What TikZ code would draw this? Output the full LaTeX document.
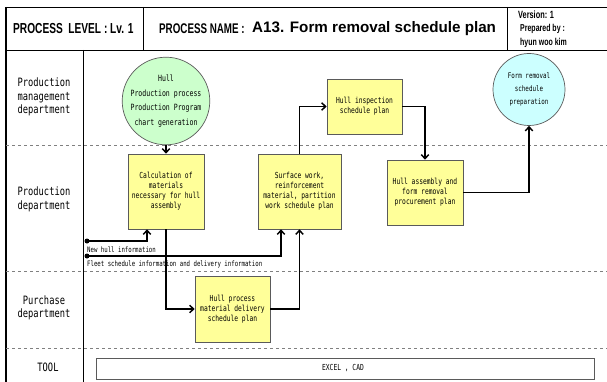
\documentclass[tikz,border=0pt]{standalone}
\usepackage{fontspec}
\usetikzlibrary{arrows.meta}
\setmainfont{Liberation Sans}
\newfontfamily\hdr[FakeStretch=0.7]{Liberation Sans Bold}
\newfontfamily\ttl{Liberation Sans Bold}
\newfontfamily\gul[FakeStretch=0.76]{DejaVu Sans Mono}
\definecolor{boxyellow}{HTML}{FFFF99}
\definecolor{hullgreen}{HTML}{CCFFCC}
\definecolor{formcyan}{HTML}{CCFFFF}
\definecolor{edgegray}{HTML}{5A5A5A}
\tikzset{
  task/.style={draw=edgegray, line width=0.7pt, fill=boxyellow, align=center, inner sep=0pt,
    font=\gul\fontsize{8.3}{10}\selectfont},
  event/.style={circle, draw=edgegray, line width=0.7pt, align=center, inner sep=0pt},
  flow/.style={line width=1.8pt, -{Straight Barb[length=4pt,width=7.5pt,line width=1.5pt]}},
  lane/.style={draw=gray, dashed, line width=0.6pt},
  rule/.style={draw=black, line width=0.7pt},
  lanelabel/.style={align=center, inner sep=0pt, font=\gul\fontsize{11.5}{13.5}\selectfont},
  info/.style={anchor=west, inner sep=0pt, font=\gul\fontsize{7.5}{8}\selectfont},
  hdrtext/.style={anchor=west, inner sep=0pt},
  dot/.style={circle, fill=black, inner sep=0pt, minimum size=5pt}
}
\begin{document}
\begin{tikzpicture}[x=1pt, y=-1pt]
\useasboundingbox (0,0) rectangle (607,382);
\fill[white] (0,0) rectangle (607,382);

% frame, header and lane grid
\draw[line width=2pt] (6,7) -- (6,384);
\draw[rule] (6,7) -- (608,7);
\draw[rule] (6,50) -- (608,50);
\draw[rule] (143,7) -- (143,50);
\draw[rule] (507,7) -- (507,50);
\draw[rule] (83,50) -- (83,384);
\draw[lane] (6,145) -- (607,145);
\draw[lane] (6,271) -- (607,271);
\draw[lane] (6,348) -- (607,348);

% header texts
\node[hdrtext, font=\hdr\fontsize{14.5}{16}\selectfont] (lvl) at (13,29) {PROCESS\ \ LEVEL : Lv. 1};
\node[hdrtext, font=\hdr\fontsize{14}{16}\selectfont] (pname) at (159,29) {PROCESS NAME :};
\node[hdrtext, font=\ttl\fontsize{15.2}{16}\selectfont] (ptitle) at (252,29) {A13. Form removal schedule plan};
\node[hdrtext, font=\hdr\fontsize{10.5}{11}\selectfont] (ver) at (518,15) {Version: 1};
\node[hdrtext, font=\hdr\fontsize{10}{11}\selectfont] (prep) at (520,29) {Prepared by :};
\node[hdrtext, font=\hdr\fontsize{10}{11}\selectfont] (auth) at (520,42.5) {hyun woo kim};

% lane labels
\node[lanelabel] (l1) at (44,97) {Production\\management\\department};
\node[lanelabel] (l2) at (44,199.5) {Production\\department};
\node[lanelabel] (l3) at (44,308) {Purchase\\department};
\node[lanelabel] (l4) at (48,367) {TOOL};

% events
\node[event, fill=hullgreen, minimum size=82pt, font=\gul\fontsize{8.6}{14.5}\selectfont] (hull) at (166,101)
  {Hull\\Production process\\Production Program\\chart generation};
\node[event, fill=formcyan, minimum size=72pt, font=\gul\fontsize{7.7}{13}\selectfont] (form) at (529,89.5)
  {Form removal\\schedule\\preparation};

% tasks
\node[task, minimum width=76pt, minimum height=75pt] (calc) at (166,191.5)
  {Calculation of\\materials\\necessary for hull\\assembly};
\node[task, minimum width=83pt, minimum height=75pt] (surf) at (299.5,191.5)
  {Surface work,\\reinforcement\\material, partition\\work schedule plan};
\node[task, minimum width=75pt, minimum height=55pt] (insp) at (364.5,106.5)
  {Hull inspection\\schedule plan};
\node[task, minimum width=76pt, minimum height=65pt] (asm) at (425,192.5)
  {Hull assembly and\\form removal\\procurement plan};
\node[task, minimum width=75pt, minimum height=66pt] (hproc) at (232.5,309)
  {Hull process\\material delivery\\schedule plan};

% tool box
\node[draw=edgegray, line width=0.7pt, minimum width=498pt, minimum height=21pt, inner sep=0pt] (tool) at (345,368.5) {};
\node[inner sep=0pt, font=\gul\fontsize{8.3}{9}\selectfont] (toolname) at (343,368) {EXCEL , CAD};

% incoming information
\node[dot] (d1) at (87,241) {};
\node[dot] (d2) at (87,256) {};
\node[info] (i1) at (87,249.5) {New hull information};
\node[info] (i2) at (87,264.5) {Fleet schedule information and delivery information};

% flows
\draw[flow] (hull) -- (calc);
\draw[flow] (calc.south) |- (hproc.west);
\draw[flow] (hproc.east) -| (surf.south);
\draw[flow] (surf.north) |- (insp.west);
\draw[flow] (insp.east) -| (asm.north);
\draw[flow] (asm.east) -| (form.south);
\draw[flow] (d1.center) -| ([xshift=-19pt]calc.south);
\draw[flow] (d2.center) -| ([xshift=-18.5pt]surf.south);
\end{tikzpicture}
\end{document}
